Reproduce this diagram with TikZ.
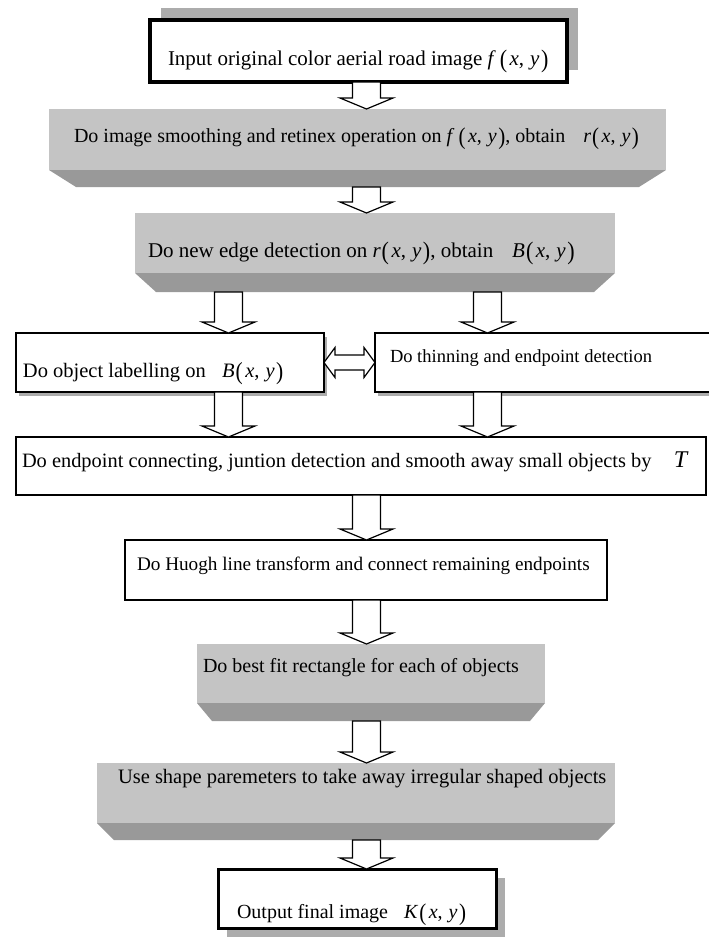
\documentclass[tikz,border=0pt]{standalone}
\usepackage{fontspec}
\setmainfont{Liberation Serif}
\usepackage{graphicx}
\usetikzlibrary{calc,shadows}
\definecolor{facegrey}{RGB}{196,196,196}
\definecolor{bevgrey}{RGB}{153,153,153}
\definecolor{shgrey}{RGB}{172,172,172}
\newcommand\lpar{\raisebox{-0.1em}{\scalebox{1.05}[1.2]{(}}}
\newcommand\rpar{\raisebox{-0.1em}{\scalebox{1.05}[1.2]{)}}}
\newcommand\fxy[2][1pt]{\textit{#2}\kern#1\lpar\kern2.5pt\textit{x},\kern6pt\textit{y}\kern1.5pt\rpar}
\newcommand\fs[1]{\fontsize{#1}{#1}\selectfont}
\begin{document}
\begin{tikzpicture}[x=1pt,y=-1pt,
  every node/.style={inner sep=0pt, outer sep=0pt},
  txt/.style={anchor=base west, font=\fontsize{20}{24}\selectfont},
  wbox/.style={draw=black, fill=white},
  gbox/.style 2 args={draw=none, path picture={
     \fill[facegrey] (path picture bounding box.north west) rectangle ([yshift=#1]path picture bounding box.south east);
     \fill[bevgrey] ([yshift=#1]path picture bounding box.south west) -- ([yshift=#1]path picture bounding box.south east)
        -- ([xshift=-#2]path picture bounding box.south east) -- ([xshift=#2]path picture bounding box.south west) -- cycle;}},
  barrow/.style={fill=white, draw=black, line width=1.2pt, line join=miter,
     to path={let \p1=(\tikztostart), \p2=(\tikztotarget) in
       (\x1-14pt,\y1) -- (\x1-14pt,\y2+11pt) -- (\x1-26.5pt,\y2+11pt) -- (\x1,\y2)
       -- (\x1+26.5pt,\y2+11pt) -- (\x1+14pt,\y2+11pt) -- (\x1+14pt,\y1) -- cycle}},
  dbarrow/.style={fill=white, draw=black, line width=1.2pt,
     to path={let \p1=(\tikztostart), \p2=(\tikztotarget) in
       (\x1,\y1) -- (\x1+11pt,\y1+15pt) -- (\x1+11pt,\y1+7.5pt) -- (\x2-11pt,\y1+7.5pt) -- (\x2-11pt,\y1+15pt)
       -- (\x2,\y1) -- (\x2-11pt,\y1-15pt) -- (\x2-11pt,\y1-7.5pt) -- (\x1+11pt,\y1-7.5pt) -- (\x1+11pt,\y1-15pt) -- cycle}}
]
\useasboundingbox[fill=white] (0,0) rectangle (709,937);

% axis coordinates for the block arrows
\coordinate (ax) at (366.5,0);
\coordinate (axl) at (228.5,0);
\coordinate (axr) at (487.5,0);

% boxes
\node[wbox, line width=4pt, minimum width=417pt, minimum height=62pt,
      drop shadow={shadow xshift=11pt, shadow yshift=12pt, fill=shgrey, opacity=1}] (b1) at (358.5,51) {};
\node[gbox={17pt}{27pt}, minimum width=617pt, minimum height=78pt] (b2) at (357.5,148) {};
\node[gbox={19pt}{21pt}, minimum width=480pt, minimum height=79pt] (b3) at (375,252.5) {};
\node[wbox, line width=2.5pt, minimum width=308pt, minimum height=59pt,
      drop shadow={shadow xshift=3pt, shadow yshift=-3.5pt, fill=shgrey, opacity=1}] (b4l) at (170,362.5) {};
\node[wbox, line width=2.5pt, minimum width=337pt, minimum height=59pt,
      drop shadow={shadow xshift=3pt, shadow yshift=-3.5pt, fill=shgrey, opacity=1}] (b4r) at (543.5,362.5) {};
\node[wbox, line width=2pt, minimum width=690pt, minimum height=58pt] (b5) at (361,466) {};
\node[wbox, line width=2pt, minimum width=482pt, minimum height=60pt] (b6) at (366,570) {};
\node[gbox={18pt}{15pt}, minimum width=348pt, minimum height=77pt] (b7) at (371,682.5) {};
\node[gbox={17pt}{17pt}, minimum width=518pt, minimum height=77pt] (b8) at (356,801.5) {};
\node[wbox, line width=3pt, minimum width=278pt, minimum height=59pt,
      drop shadow={shadow xshift=9pt, shadow yshift=-9pt, fill=shgrey, opacity=1}] (b9) at (357,898.5) {};

% texts
\node[txt, font=\fs{21}] (t1) at (168,65) {Input original color aerial road image \fxy[4pt]{f}};
\node[txt, font=\fs{20}] (t2) at (74,142) {Do image smoothing and retinex operation on \fxy[4pt]{f}, obtain\hspace{0.9em}\fxy{r}};
\node[txt, font=\fs{21}] (t3) at (148,257) {Do new edge detection on \fxy{r}, obtain\hspace{0.9em}\fxy{B}};
\node[txt, font=\fs{20.5}] (t4l) at (23,377) {Do object labelling on\hspace{0.8em}\fxy{B}};
\node[txt, font=\fs{18.5}] (t4r) at (390,362) {Do thinning and endpoint detection};
\node[txt, font=\fs{20.4}] (t5) at (22,467) {Do endpoint connecting, juntion detection and smooth away small objects by\hspace{1.1em}{\fs{24}\textit{T}}};
\node[txt, font=\fs{19.2}] (t6) at (137,570) {Do Huogh line transform and connect remaining endpoints};
\node[txt] (t7) at (203,672) {Do best fit rectangle for each of objects};
\node[txt, font=\fs{20.5}] (t8) at (118,783) {Use shape paremeters to take away irregular shaped objects};
\node[txt] (t9) at (237,918) {Output final image\hspace{0.8em}\fxy{K}};

% block arrows
\draw[barrow] (b1.south -| ax) to (b2.north -| ax);
\draw[barrow] (b2.south -| ax) to (b3.north -| ax);
\draw[barrow] (b3.south -| axl) to (b4l.north -| axl);
\draw[barrow] (b3.south -| axr) to (b4r.north -| axr);
\draw[dbarrow] (b4l.east) to (b4r.west);
\draw[barrow] (b4l.south -| axl) to (b5.north -| axl);
\draw[barrow] (b4r.south -| axr) to (b5.north -| axr);
\draw[barrow] (b5.south -| ax) to (b6.north -| ax);
\draw[barrow] (b6.south -| ax) to (b7.north -| ax);
\draw[barrow] (b7.south -| ax) to (b8.north -| ax);
\draw[barrow] (b8.south -| ax) to (b9.north -| ax);
\end{tikzpicture}
\end{document}
